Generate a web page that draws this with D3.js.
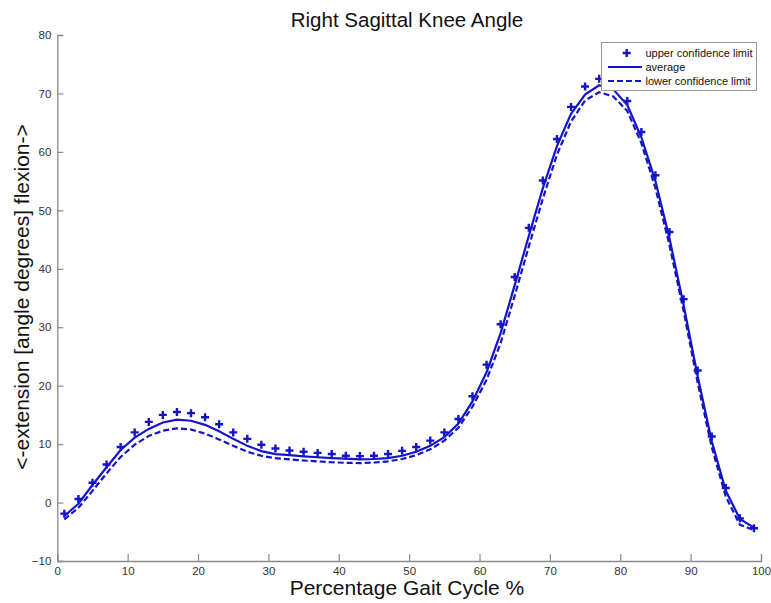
<!DOCTYPE html>
<html><head><meta charset="utf-8">
<script src="https://cdn.jsdelivr.net/npm/d3@7"></script>
<style>body{margin:0;background:#fff;}svg{display:block;font-family:"Liberation Sans",Arial,sans-serif;}</style>
</head><body><svg id="c" width="771" height="603"></svg>
<script>
const gaitPct = [1,3,5,7,9,11,13,15,17,19,21,23,25,27,29,31,33,35,37,39,41,43,45,47,49,51,53,55,57,59,61,63,65,67,69,71,73,75,77,79,81,83,85,87,89,91,93,95,97,99];
const upperLimit = [-1.9,0.6,3.4,6.5,9.5,12.0,13.8,15.0,15.5,15.3,14.6,13.4,12.0,10.9,9.9,9.25,8.9,8.7,8.5,8.3,8.0,7.95,8.0,8.3,8.85,9.5,10.6,12.0,14.3,18.2,23.6,30.5,38.6,47.0,55.1,62.2,67.7,71.2,72.5,71.6,68.7,63.4,56.0,46.3,34.8,22.6,11.3,2.5,-2.7,-4.4];
const average = [-2.3,-0.2,3.0,6.05,9.0,11.1,12.6,13.7,14.2,14.0,13.3,12.2,10.9,9.7,8.8,8.3,8.1,7.9,7.75,7.6,7.5,7.4,7.45,7.6,8.0,8.7,9.7,11.2,13.5,17.3,22.3,29.0,37.2,45.6,53.8,61.0,66.5,69.8,71.4,70.7,68.0,62.5,55.0,45.2,33.8,21.6,10.5,2.0,-2.8,-4.3];
const lowerLimit = [-2.9,-0.9,2.0,5.0,7.8,9.9,11.4,12.3,12.7,12.5,11.8,10.8,9.7,8.7,8.0,7.6,7.4,7.2,7.05,6.9,6.8,6.75,6.85,7.05,7.45,8.1,9.1,10.6,12.8,16.4,21.0,27.3,35.4,43.8,52.0,59.5,65.2,68.8,70.2,69.5,67.0,61.5,53.8,44.0,32.8,20.5,9.5,1.0,-3.8,-4.7];
const xTicks = [0,10,20,30,40,50,60,70,80,90,100];
const yTicks = [-10,0,10,20,30,40,50,60,70,80];
const legendLabels = ["upper confidence limit","average","lower confidence limit"];
const titleText = "Right Sagittal Knee Angle";
const xLabel = "Percentage Gait Cycle %";
const yLabel = "<-extension [angle degrees] flexion->";

const svg = d3.select("#c");
const L = 57.3, R = 761, T = 35, B = 561;
const x = d3.scaleLinear().domain([0,100]).range([L,R]);
const y = d3.scaleLinear().domain([-10,80]).range([B,T]);
const blue = "#1414c8";
const axisCol = "#8a8a8a";

// axes
const gx = svg.append("g").attr("transform",`translate(0,${B})`)
  .call(d3.axisBottom(x).tickValues(xTicks).tickSize(-7).tickPadding(5));
const gy = svg.append("g").attr("transform",`translate(${L},0)`)
  .call(d3.axisLeft(y).tickValues(yTicks).tickSize(-6).tickPadding(5));
[gx,gy].forEach(g=>{
  g.select(".domain").attr("stroke",axisCol).attr("stroke-width",1.3);
  g.selectAll(".tick line").attr("stroke",axisCol).attr("stroke-width",1.2);
  g.selectAll(".tick text").attr("fill","#333").style("font-size","11.5px").style("font-family","'Liberation Sans',Arial,sans-serif");
});
gx.selectAll(".tick text").attr("y",5.5).attr("dy","0.71em");
gy.selectAll(".tick text").attr("dx","-1");

// lines
const line = (vals)=> d3.line().x((d,i)=>x(gaitPct[i])).y(d=>y(d))(vals);
svg.append("path").attr("d",line(average)).attr("fill","none").attr("stroke",blue).attr("stroke-width",2.2);
svg.append("path").attr("d",line(lowerLimit)).attr("fill","none").attr("stroke",blue).attr("stroke-width",2.2).attr("stroke-dasharray","6,3");
// markers
const plus = (g,cx,cy,s)=>{
  g.append("path").attr("d",`M${cx-s},${cy}H${cx+s}M${cx},${cy-s}V${cy+s}`).attr("stroke",blue).attr("stroke-width",2.4).attr("fill","none");
};
const mg = svg.append("g");
upperLimit.forEach((v,i)=>plus(mg,x(gaitPct[i]),y(v),4));

// legend
const lg = svg.append("g");
lg.append("rect").attr("x",601.5).attr("y",42.5).attr("width",155).attr("height",48).attr("fill","#fff").attr("stroke","#999").attr("stroke-width",1);
const rows = [53,67,81];
plus(lg,626.7,rows[0],4);
lg.append("line").attr("x1",608).attr("x2",642).attr("y1",rows[1]).attr("y2",rows[1]).attr("stroke",blue).attr("stroke-width",2.2);
lg.append("line").attr("x1",608).attr("x2",642).attr("y1",rows[2]).attr("y2",rows[2]).attr("stroke",blue).attr("stroke-width",2.2).attr("stroke-dasharray","6,3");
legendLabels.forEach((t,i)=>lg.append("text").attr("x",645.5).attr("y",rows[i]).attr("dy","0.35em").attr("fill","#111").style("font-size","11px").text(t));

// title and labels
svg.append("text").attr("x",407).attr("y",26.5).attr("text-anchor","middle").attr("fill","#111").style("font-size","20.5px").text(titleText);
svg.append("text").attr("x",407).attr("y",595).attr("text-anchor","middle").attr("fill","#111").style("font-size","21px").text(xLabel);
svg.append("text").attr("transform","translate(22,297) rotate(-90)").attr("text-anchor","middle").attr("dy","0.35em").attr("fill","#111").style("font-size","21px").text(yLabel);
</script></body></html>
